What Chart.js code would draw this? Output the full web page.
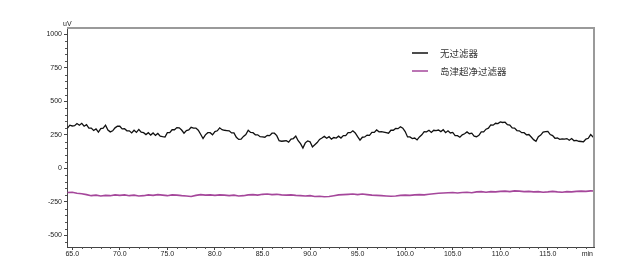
<!DOCTYPE html>
<html>
<head>
<meta charset="utf-8">
<script src="https://cdn.jsdelivr.net/npm/chart.js@4.4.1/dist/chart.umd.min.js"></script>
<style>
	html, body { margin: 0; padding: 0; background: #fff; }
	#wrap { width: 640px; height: 270px; }
</style>
</head>
<body>
<div id="wrap"><canvas id="chromChart" width="640" height="270"></canvas></div>

<script type="text/javascript">

// sampling of the two traces, in minutes
var blackStart = 64.5, blackStep = 0.25;
var pinkStart = 64.5, pinkStep = 0.5;

var seriesNames = ['无过滤器', '岛津超净过滤器'];
var seriesColors = ['#111111', '#a5479b'];

// uV
var noFilter = [
	300, 322,                     // 64.5
	316, 318, 334, 322,           // 65
	336, 314, 326, 300,           // 66
	300, 282, 294, 270,           // 67
	296, 300, 322, 286,           // 68
	272, 280, 302, 314,           // 69
	314, 294, 296, 280,           // 70
	280, 264, 284, 268,           // 71
	290, 270, 266, 252,           // 72
	266, 248, 264, 246,           // 73
	260, 240, 236, 234,           // 74
	266, 266, 288, 288,           // 75
	304, 302, 286, 262,           // 76
	282, 286, 306, 300,           // 77
	300, 284, 254, 222,           // 78
	250, 266, 266, 250,           // 79
	274, 280, 302, 288,           // 80
	284, 282, 280, 264,           // 81
	264, 232, 216, 218,           // 82
	238, 252, 284, 268,           // 83
	266, 250, 250, 236,           // 84
	234, 232, 246, 244,           // 85
	262, 262, 244, 206,           // 86
	202, 204, 206, 196,           // 87
	218, 222, 240, 206,           // 88
	184, 152, 190, 204,           // 89
	198, 160, 176, 192,           // 90
	216, 226, 238, 224,           // 91
	236, 218, 230, 226,           // 92
	240, 226, 244, 244,           // 93
	266, 266, 280, 264,           // 94
	236, 210, 232, 234,           // 95
	248, 246, 268, 268,           // 96
	286, 272, 274, 270,           // 97
	266, 262, 284, 284,           // 98
	298, 296, 310, 300,           // 99
	274, 234, 234, 222,           // 100
	226, 212, 234, 250,           // 101
	274, 272, 284, 268,           // 102
	284, 282, 286, 274,           // 103
	288, 266, 280, 264,           // 104
	268, 244, 244, 232,           // 105
	250, 258, 272, 258,           // 106
	262, 240, 236, 246,           // 107
	272, 272, 292, 300,           // 108
	324, 322, 336, 334,           // 109
	346, 342, 344, 326,           // 110
	322, 302, 300, 282,           // 111
	280, 266, 266, 250,           // 112
	252, 234, 214, 202,           // 113
	236, 248, 270, 274,           // 114
	276, 252, 244, 224,           // 115
	226, 216, 220, 218,           // 116
	222, 210, 222, 206,           // 117
	208, 202, 200, 198,           // 118
	218, 224, 252, 234,           // 119
	220                           // 120
];

var shimadzuFilter = [
	-180,                // 64.5
	-178, -186,          // 65
	-190, -196,          // 66
	-204, -200,          // 67
	-206, -202,          // 68
	-204, -198,          // 69
	-202, -198,          // 70
	-204, -200,          // 71
	-206, -204,          // 72
	-198, -202,          // 73
	-196, -200,          // 74
	-204, -198,          // 75
	-200, -204,          // 76
	-206, -210,          // 77
	-202, -196,          // 78
	-200, -198,          // 79
	-202, -198,          // 80
	-200, -204,          // 81
	-200, -206,          // 82
	-204, -198,          // 83
	-196, -200,          // 84
	-194, -192,          // 85
	-196, -194,          // 86
	-198, -200,          // 87
	-198, -202,          // 88
	-204, -206,          // 89
	-204, -210,          // 90
	-208, -212,          // 91
	-210, -204,          // 92
	-198, -196,          // 93
	-194, -192,          // 94
	-196, -192,          // 95
	-196, -200,          // 96
	-202, -204,          // 97
	-206, -208,          // 98
	-206, -202,          // 99
	-200, -202,          // 100
	-198, -196,          // 101
	-198, -194,          // 102
	-190, -186,          // 103
	-184, -182,          // 104
	-180, -184,          // 105
	-180, -178,          // 106
	-182, -176,          // 107
	-174, -178,          // 108
	-174, -176,          // 109
	-172, -170,          // 110
	-174, -168,          // 111
	-170, -174,          // 112
	-172, -176,          // 113
	-174, -178,          // 114
	-176, -172,          // 115
	-176, -178,          // 116
	-174, -176,          // 117
	-172, -170,          // 118
	-172, -168,          // 119
	-170                 // 120
];

var xTicks = [65, 70, 75, 80, 85, 90, 95, 100, 105, 110, 115];
var yTicks = [-500, -250, 0, 250, 500, 750, 1000];
var xUnit = 'min';
var yUnit = 'uV';

function toPoints(values, start, step) {
	var pts = [];
	for (var i = 0; i < values.length; i++) {
		pts.push({ x: start + i * step, y: values[i] });
	}
	return pts;
}

var tickFont = { family: '"Liberation Sans", Arial, sans-serif', size: 7 };

// frame, minor ticks, unit labels and the legend box inside the plot
var decorations = {
	id: 'decorations',
	afterDraw: function(chart) {
		var ctx = chart.ctx;
		var a = chart.chartArea;
		var xs = chart.scales.x, ys = chart.scales.y;
		ctx.save();

		ctx.strokeStyle = '#9a9a9a';
		ctx.lineWidth = 2;
		ctx.beginPath();
		ctx.moveTo(a.left, a.top);
		ctx.lineTo(a.right, a.top);
		ctx.lineTo(a.right, a.bottom);
		ctx.stroke();

		ctx.strokeStyle = '#555';
		ctx.lineWidth = 1;
		ctx.beginPath();
		for (var v = -550; v <= 1000; v += 50) {
			if (v % 250 === 0) continue;
			var py = Math.round(ys.getPixelForValue(v)) + 0.5;
			ctx.moveTo(a.left - 2, py);
			ctx.lineTo(a.left, py);
		}
		for (var t = 65; t <= 119; t += 1) {
			if (t % 5 === 0) continue;
			var px = Math.round(xs.getPixelForValue(t)) + 0.5;
			ctx.moveTo(px, a.bottom);
			ctx.lineTo(px, a.bottom + 2);
		}
		ctx.stroke();

		ctx.fillStyle = '#222';
		ctx.font = '7px "Liberation Sans", Arial, sans-serif';
		ctx.textAlign = 'left';
		ctx.textBaseline = 'alphabetic';
		ctx.fillText(yUnit, a.left - 4, a.top - 2);
		ctx.textAlign = 'right';
		ctx.textBaseline = 'middle';
		ctx.fillText(xUnit, a.right - 1, a.bottom + 7);

		ctx.font = '9.5px "Noto Sans CJK SC", sans-serif';
		ctx.textAlign = 'left';
		var ds = chart.data.datasets;
		for (var i = 0; i < ds.length; i++) {
			var ly = 53 + i * 18;
			ctx.strokeStyle = ds[i].borderColor;
			ctx.lineWidth = 1.5;
			ctx.beginPath();
			ctx.moveTo(412, ly);
			ctx.lineTo(428, ly);
			ctx.stroke();
			ctx.fillStyle = '#333';
			ctx.fillText(ds[i].label, 440, ly);
		}
		ctx.restore();
	}
};

var ctx = document.getElementById('chromChart').getContext('2d');
var chromChart = new Chart(ctx, {
	type: 'line',
	data: {
		datasets: [{
			label: seriesNames[0],
			data: toPoints(noFilter, blackStart, blackStep),
			borderColor: seriesColors[0],
			borderWidth: 1.3,
			pointRadius: 0,
			tension: 0
		}, {
			label: seriesNames[1],
			data: toPoints(shimadzuFilter, pinkStart, pinkStep),
			borderColor: seriesColors[1],
			borderWidth: 1.6,
			pointRadius: 0,
			tension: 0
		}]
	},
	options: {
		responsive: false,
		animation: false,
		devicePixelRatio: 1,
		layout: { padding: { top: 28, right: 46, left: 0, bottom: 0 } },
		plugins: {
			legend: { display: false },
			tooltip: { enabled: false }
		},
		scales: {
			x: {
				type: 'linear',
				min: 64.45,
				max: 119.85,
				afterFit: function(s) { s.height = 23; },
				afterBuildTicks: function(s) {
					s.ticks = xTicks.map(function(v) { return { value: v }; });
				},
				border: { color: '#444', width: 1 },
				grid: { drawOnChartArea: false, tickLength: 3, color: '#444' },
				ticks: {
					autoSkip: false,
					maxRotation: 0,
					padding: 0,
					color: '#222',
					font: tickFont,
					callback: function(v) { return Number(v).toFixed(1); }
				}
			},
			y: {
				type: 'linear',
				min: -587,
				max: 1047,
				afterFit: function(s) { s.width = 67; },
				afterBuildTicks: function(s) {
					s.ticks = yTicks.map(function(v) { return { value: v }; });
				},
				border: { color: '#444', width: 1 },
				grid: { drawOnChartArea: false, tickLength: 3, color: '#444' },
				ticks: {
					padding: 2,
					color: '#222',
					font: tickFont,
					callback: function(v) { return String(v); }
				}
			}
		}
	},
	plugins: [decorations]
});
</script>
</body>
</html>
